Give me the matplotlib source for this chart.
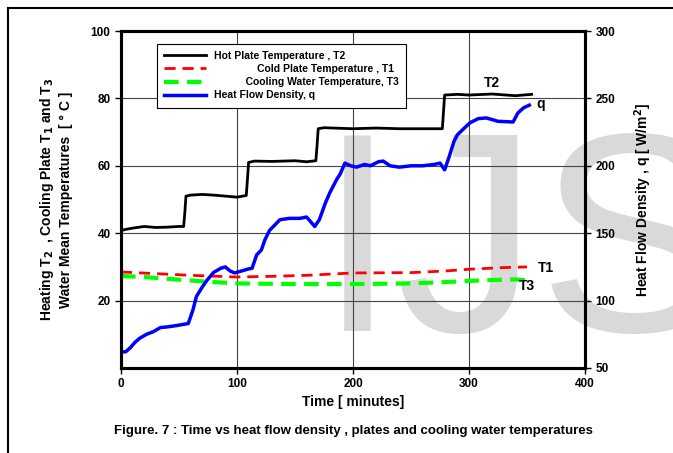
import matplotlib
matplotlib.use('Agg')
import matplotlib.pyplot as plt
from matplotlib.lines import Line2D

plt.rcParams['font.family'] = ['Liberation Sans', 'DejaVu Sans']
plt.rcParams['font.weight'] = 'bold'
plt.rcParams['axes.labelweight'] = 'bold'
plt.rcParams['mathtext.default'] = 'bf'

# hot plate temperature T2 [C]
t_T2 = [0, 5, 10, 20, 30, 40, 50, 54, 55, 56, 60, 70, 80, 90, 100, 105, 108, 109, 110,
        115, 130, 150, 160, 168, 169, 170, 175, 200, 220, 240, 260, 277, 278, 279,
        290, 300, 320, 340, 354]
T2 = [40.8, 41.2, 41.5, 42, 41.7, 41.8, 42, 42, 46, 51, 51.3, 51.5, 51.3, 51, 50.7, 51, 51.2, 56, 61,
      61.4, 61.3, 61.5, 61.2, 61.5, 66, 71, 71.3, 71, 71.2, 71, 71, 71, 76, 81,
      81.2, 81, 81.3, 80.8, 81.2]

# cold plate temperature T1 [C]
t_T1 = [0, 30, 60, 100, 130, 160, 200, 250, 280, 300, 330, 350]
T1 = [28.5, 28, 27.5, 27, 27.2, 27.5, 28.2, 28.3, 28.8, 29.3, 29.8, 30]

# cooling water temperature T3 [C]
t_T3 = [0, 20, 50, 80, 100, 150, 200, 250, 280, 310, 340, 350]
T3 = [27.3, 27, 26.2, 25.5, 25.1, 24.9, 24.9, 25.1, 25.5, 26, 26.3, 26]

# heat flow density q [W/m2]
t_q = [0, 4, 8, 12, 16, 22, 28, 34, 40, 48, 58, 62, 65, 70, 74, 80, 86, 90, 94, 98,
       104, 110, 113, 117, 121, 124, 128, 137, 145, 154, 160, 164, 167, 171, 176,
       180, 186, 189, 193, 198, 203, 210, 215, 222, 226, 232, 240, 250, 260, 270,
       275, 279, 283, 287, 290, 296, 301, 308, 315, 325, 338, 342, 347, 352]
q = [62, 62, 65, 69, 72, 75, 77, 80, 80.5, 81.5, 83, 93, 103, 110, 115, 121, 124, 125, 122, 120.5,
     122, 123.5, 124, 134, 137.5, 145, 152, 160, 161, 161, 162, 158, 155, 160, 172,
     180, 190, 194, 202, 200, 199, 201, 200, 203, 203.5, 200, 199, 200, 200, 201,
     202, 197, 207, 218, 223, 228, 232, 235, 235.5, 233, 232.5, 239, 243, 245]

fig = plt.figure(figsize=(6.73, 4.53), dpi=100)

# outer frame of the figure panel
fig.add_artist(Line2D([8/673, 8/673], [0, 1 - 8/453], color='black', lw=1.5, transform=fig.transFigure))
fig.add_artist(Line2D([8/673, 1], [1 - 8/453, 1 - 8/453], color='black', lw=1.5, transform=fig.transFigure))

# watermark
fig.text(318/673, 1 - 331/453, 'IJS', fontsize=205, color='#d9d9d9', fontweight='normal',
         ha='left', va='baseline', zorder=-5)

ax = fig.add_axes([121/673, 85/453, 464/673, 337/453])
ax.patch.set_alpha(0)
ax2 = ax.twinx()
ax2.patch.set_alpha(0)

ax.plot(t_T1, T1, color='red', lw=2, dashes=(4, 2.5), label='Cold Plate Temperature , T1')
ax.plot(t_T3, T3, color='#00ff00', lw=3, dashes=(3.5, 2), label='Cooling Water Temperature, T3')
ax.plot(t_T2, T2, color='black', lw=2, label='Hot Plate Temperature , T2')
ax2.plot(t_q, q, color='blue', lw=2.5, label='Heat Flow Density, q')

ax.set_xlim(0, 400)
ax.set_ylim(0, 100)
ax2.set_ylim(50, 300)
ax.set_xticks([0, 100, 200, 300, 400])
ax.set_yticks([20, 40, 60, 80, 100])
ax2.set_yticks([50, 100, 150, 200, 250, 300])
ax.grid(True, color='#444444', lw=0.8)
ax.set_axisbelow(True)

for a in (ax, ax2):
    for s in a.spines.values():
        s.set_linewidth(2.2)
    a.tick_params(labelsize=8.5, length=4, width=1, direction='out')

ax.set_xlabel('Time [ minutes]', fontsize=10, labelpad=3)
ax.set_ylabel('Heating T$_2$  , Cooling Plate T$_1$ and T$_3$\nWater Mean Temperatures  [ ° C ]',
              fontsize=10, labelpad=13, linespacing=1.25)
ax2.set_ylabel('Heat Flow Density , q [ W/m$^2$]', fontsize=10, labelpad=12)

# curve labels
ax.text(320, 84.5, 'T2', fontsize=10, ha='center', va='center')
ax.text(362, 78.3, 'q', fontsize=10, ha='center', va='center')
ax.text(366, 29.8, 'T1', fontsize=10, ha='center', va='center')
ax.text(350, 24.2, 'T3', fontsize=10, ha='center', va='center')

h1, l1 = ax.get_legend_handles_labels()
h2, l2 = ax2.get_legend_handles_labels()
handles = [h1[2], h1[0], h1[1], h2[0]]
labels = [l1[2], '               ' + l1[0], '           ' + l1[1], l2[0]]
leg = ax2.legend(handles, labels, loc='upper left', bbox_to_anchor=(0.066, 0.978),
                 fontsize=7.5, frameon=True, fancybox=False, framealpha=1,
                 edgecolor='black', handlelength=4, borderpad=0.7, labelspacing=0.3)
leg.get_frame().set_linewidth(0.8)

fig.text(353/673, 1 - 431/453,
         'Figure. 7 : Time vs heat flow density , plates and cooling water temperatures',
         fontsize=9.5, ha='center', va='center')

fig.savefig('out.png', dpi=100)
